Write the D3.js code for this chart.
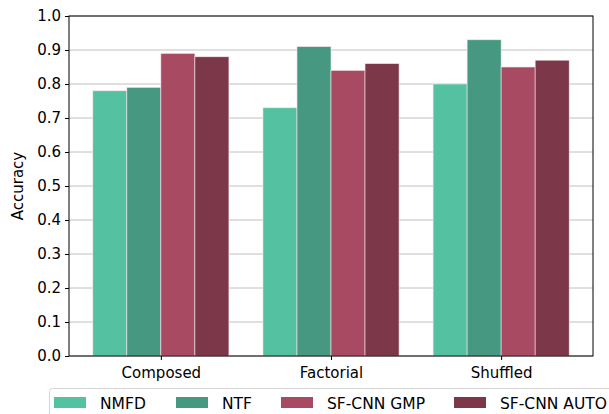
<!DOCTYPE html>
<html><head><meta charset="utf-8">
<script src="https://cdn.jsdelivr.net/npm/d3@7"></script>
<style>body{margin:0;background:#fff}svg{display:block;font-family:"DejaVu Sans",sans-serif}</style>
</head><body><svg id="c" width="609" height="414"></svg>
<script>
const categories = ["Composed", "Factorial", "Shuffled"];
const seriesNames = ["NMFD", "NTF", "SF-CNN GMP", "SF-CNN AUTO"];
const nmfd = [0.78, 0.73, 0.80];
const ntf = [0.79, 0.91, 0.93];
const gmp = [0.89, 0.84, 0.85];
const auto = [0.88, 0.86, 0.87];
const yTicks = [0.0, 0.1, 0.2, 0.3, 0.4, 0.5, 0.6, 0.7, 0.8, 0.9, 1.0];
const colors = ["#54c2a0", "#469980", "#a84b62", "#7c3749"];
const series = [nmfd, ntf, gmp, auto];

const FS = 15;
const svg = d3.select("#c");
const L = 69, R = 593, T = 16, B = 356;
const x = d3.scaleLinear().domain([-0.54, 2.54]).range([L, R]);
const y = d3.scaleLinear().domain([0, 1]).range([B, T]);

// grid
svg.append("g").selectAll("line").data(yTicks).join("line")
  .attr("x1", L).attr("x2", R).attr("y1", d => y(d)).attr("y2", d => y(d))
  .attr("stroke", "#b0b0b0").attr("stroke-width", 0.8);

// bars
const bw = 0.2;
series.forEach((vals, s) => {
  svg.append("g").selectAll("rect").data(vals).join("rect")
    .attr("x", (d, i) => x(i - 0.4 + s * bw))
    .attr("width", x(bw) - x(0))
    .attr("y", d => y(d))
    .attr("height", d => y(0) - y(d))
    .attr("fill", colors[s])
    .attr("stroke", "#f5e6ea").attr("stroke-width", 0.6);
});

// frame
svg.append("rect").attr("x", L).attr("y", T).attr("width", R - L).attr("height", B - T)
  .attr("fill", "none").attr("stroke", "#000").attr("stroke-width", 1);

// axes
const yAxis = d3.axisLeft(y).tickValues(yTicks).tickFormat(d3.format(".1f")).tickSize(4).tickPadding(4);
const gy = svg.append("g").attr("transform", `translate(${L},0)`).call(yAxis);
const xAxis = d3.axisBottom(x).tickValues([0, 1, 2]).tickFormat(i => categories[i]).tickSize(4).tickPadding(5);
const gx = svg.append("g").attr("transform", `translate(0,${B})`).call(xAxis);
[gy, gx].forEach(g => {
  g.select(".domain").remove();
  g.attr("font-size", FS).attr("font-family", "DejaVu Sans");
  g.selectAll("text").attr("fill", "#000");
  g.selectAll("line").attr("stroke", "#000");
});
gx.selectAll("text").attr("dy", "0.85em");

svg.append("text").attr("transform", `translate(23,${(T + B) / 2}) rotate(-90)`)
  .attr("text-anchor", "middle").attr("font-size", FS).text("Accuracy");

// legend
svg.append("rect").attr("x", 49.5).attr("y", 388.5).attr("width", 600).attr("height", 40)
  .attr("rx", 3).attr("fill", "#fff").attr("stroke", "#d6d6d6").attr("stroke-width", 1);
const legX = [54, 176, 281, 454];
seriesNames.forEach((n, s) => {
  svg.append("rect").attr("x", legX[s]).attr("y", 397).attr("width", 32).attr("height", 11)
    .attr("fill", colors[s]);
  svg.append("text").attr("x", legX[s] + 46).attr("y", 408.5).attr("font-size", 15.5).text(n);
});
</script></body></html>
